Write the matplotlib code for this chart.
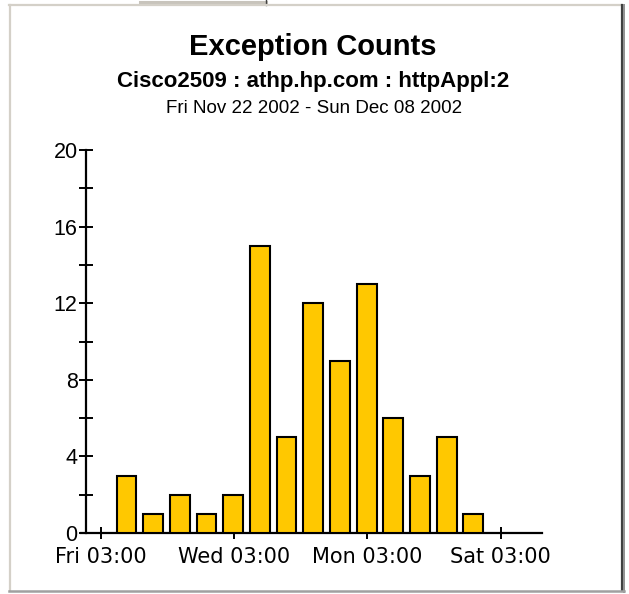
import matplotlib
matplotlib.use("Agg")
import matplotlib.pyplot as plt
from matplotlib.lines import Line2D
from matplotlib.ticker import FixedLocator, MultipleLocator

plt.rcParams["font.family"] = ["Liberation Sans", "DejaVu Sans"]

# Daily exception counts, Nov 23 .. Dec 6 (bars centred at 03:00 of each day)
days = [1.1 + i for i in range(14)]
counts = [3, 1, 2, 1, 2, 15, 5, 12, 9, 13, 6, 3, 5, 1]

# Tick positions in days since Fri Nov 22 2002 00:00
tick_pos = [0.125, 5.125, 10.125, 15.125]
tick_labels = ["Fri 03:00", "Wed 03:00", "Mon 03:00", "Sat 03:00"]
y_major = [0, 4, 8, 12, 16, 20]

title = "Exception Counts"
subtitle = "Cisco2509 : athp.hp.com : httpAppl:2"
period = "Fri Nov 22 2002 - Sun Dec 08 2002"

W, H = 629, 594
fig = plt.figure(figsize=(W / 100, H / 100), dpi=100)
fig.patch.set_facecolor("white")

# panel frame
def hline(x0, x1, y, color, lw=1.0):
    fig.add_artist(Line2D([x0 / W, x1 / W], [1 - y / H, 1 - y / H], color=color, lw=lw))

def vline(x, y0, y1, color, lw=1.0):
    fig.add_artist(Line2D([x / W, x / W], [1 - y0 / H, 1 - y1 / H], color=color, lw=lw))

hline(140, 266, 1.5, "#c8c4bc", 2.2)
vline(266, 0, 5, "#404040", 1.0)
hline(9, 621, 5, "#d4d0c8", 1.6)
vline(9.5, 5, 590, "#d4d0c8", 1.6)
vline(621.5, 5, 591, "#404040", 1.6)
vline(623.5, 5, 592, "#909090", 1.4)
hline(9, 624, 590.5, "#a0a0a0", 1.8)

# plot area
x0_px, x1_px = 81, 542
top_px, bot_px = 150, 533
ax = fig.add_axes([x0_px / W, 1 - bot_px / H, (x1_px - x0_px) / W, (bot_px - top_px) / H])
px_per_day = (500.7 - 100.5) / 15
xmin = 0.125 - (100.5 - x0_px) / px_per_day
xmax = 0.125 + (x1_px - 100.5) / px_per_day
yspine = 0.125 - (100.5 - 86) / px_per_day

ax.bar(days, counts, width=0.74, color="#FFC800", edgecolor="black", linewidth=1.5, zorder=3)

ax.set_xlim(xmin, xmax)
ax.set_ylim(0, 20)
ax.set_facecolor("none")
for s in ("top", "right"):
    ax.spines[s].set_visible(False)
ax.spines["left"].set_position(("data", yspine))
ax.spines["left"].set_linewidth(1.6)
ax.spines["bottom"].set_linewidth(1.6)

ax.xaxis.set_major_locator(FixedLocator(tick_pos))
ax.set_xticklabels(tick_labels, family="DejaVu Sans", fontsize=15)
ax.yaxis.set_major_locator(FixedLocator(y_major))
ax.yaxis.set_minor_locator(MultipleLocator(2))
ax.tick_params(axis="y", which="both", direction="inout", length=10, width=1.4,
               labelsize=15.5, pad=1, colors="black")
ax.tick_params(axis="x", which="major", direction="inout", length=8, width=1.4,
               pad=6, colors="black")

fig.text(313 / W, 1 - 47 / H, title, ha="center", va="center", fontsize=21, fontweight="bold")
fig.text(313 / W, 1 - 81 / H, subtitle, ha="center", va="center", fontsize=16, fontweight="bold")
fig.text(314 / W, 1 - 108 / H, period, ha="center", va="center", fontsize=13.5)

fig.savefig("out.png", dpi=100)
